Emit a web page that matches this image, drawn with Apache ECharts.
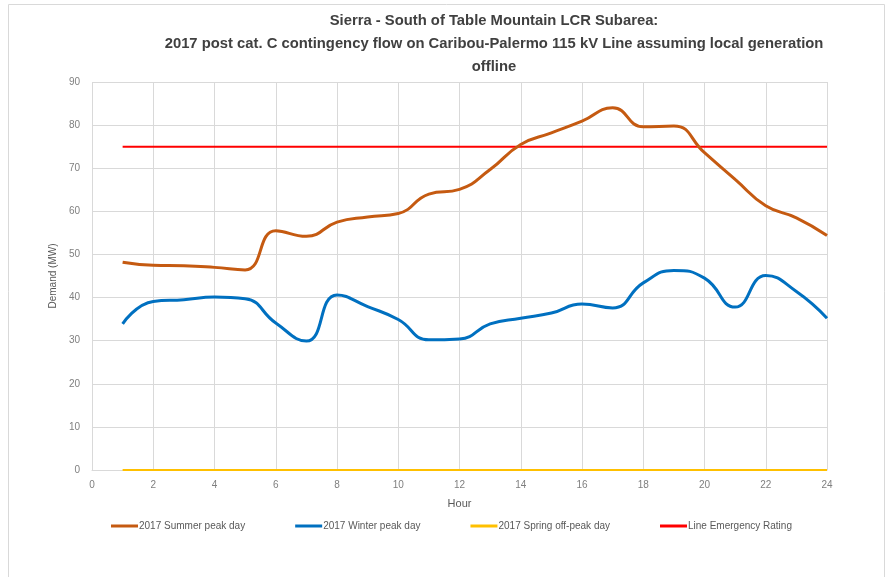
<!DOCTYPE html>
<html>
<head>
<meta charset="utf-8">
<script src="https://cdn.jsdelivr.net/npm/echarts@6/dist/echarts.min.js"></script>
<style>
  html, body { margin: 0; padding: 0; background: #fff; }
  #chart { width: 889px; height: 577px; }
</style>
</head>
<body>
<div id="chart"></div>
<script>
// hours 1..24
var hours = [1, 2, 3, 4, 5, 6, 7, 8, 9, 10, 11, 12, 13, 14, 15, 16, 17, 18, 19, 20, 21, 22, 23, 24]
var summerPeak = [48.2, 47.5, 47.4, 47.0, 46.4, 55.5, 54.2, 57.5, 58.7, 59.5, 64.0, 65.1,
  69.7, 75.5, 78.2, 80.9, 84.0, 79.6, 79.8, 73.6, 67.4, 61.3, 58.5, 54.4]
var winterPeak = [33.9, 39.1, 39.5, 40.1, 39.7, 34.1, 29.9, 40.6, 37.9, 34.9, 30.2, 30.4,
  33.9, 35.2, 36.4, 38.5, 37.6, 43.4, 46.3, 44.5, 37.8, 45.1, 41.4, 35.2]
var springOffPeak = [0, 0, 0, 0, 0, 0, 0, 0, 0, 0, 0, 0, 0, 0, 0, 0, 0, 0, 0, 0, 0, 0, 0, 0]
var emergencyRating = [75, 75, 75, 75, 75, 75, 75, 75, 75, 75, 75, 75,
  75, 75, 75, 75, 75, 75, 75, 75, 75, 75, 75, 75]

function pairs(vals) {
  return hours.map(function (h, i) { return [h, vals[i]] })
}

var font = 'Liberation Sans'
var chart = echarts.init(document.getElementById('chart'))

var option = {
  animation: false,
  textStyle: { fontFamily: font },
  graphic: [{
    type: 'rect',
    shape: { x: 8.5, y: 4.5, width: 876, height: 600 },
    style: { fill: 'none', stroke: '#d9d9d9', lineWidth: 1 },
    silent: true
  }],
  title: {
    text: 'Sierra - South of Table Mountain LCR Subarea:\n2017 post cat. C contingency flow on Caribou-Palermo 115 kV Line assuming local generation\noffline',
    left: 489,
    top: 4,
    textAlign: 'center',
    textStyle: {
      fontFamily: font,
      fontSize: 14.8,
      fontWeight: 'bold',
      color: '#404040',
      lineHeight: 23
    }
  },
  legend: {
    bottom: 41,
    left: 106,
    itemGap: 50,
    itemWidth: 27,
    itemHeight: 3,
    icon: 'rect',
    textStyle: { fontSize: 10, color: '#595959', padding: [0, 0, 0, -4] },
    data: ['2017 Summer peak day', '2017 Winter peak day', '2017 Spring off-peak day', 'Line Emergency Rating']
  },
  grid: {
    left: 92,
    right: 62,
    top: 82,
    bottom: 107
  },
  xAxis: {
    type: 'value',
    min: 0,
    max: 24,
    interval: 2,
    name: 'Hour',
    nameLocation: 'middle',
    nameGap: 28,
    nameTextStyle: { fontSize: 11, color: '#595959' },
    axisLine: { show: true, lineStyle: { color: '#d9d9d9' } },
    axisTick: { show: false },
    axisLabel: { fontSize: 10, color: '#7f7f7f', margin: 10 },
    splitLine: { show: true, lineStyle: { color: '#d9d9d9' } }
  },
  yAxis: {
    type: 'value',
    min: 0,
    max: 90,
    interval: 10,
    name: 'Demand (MW)',
    nameLocation: 'middle',
    nameGap: 21,
    nameTextStyle: { fontSize: 10, color: '#595959' },
    axisLine: { show: false },
    axisTick: { show: false },
    axisLabel: { fontSize: 10, color: '#7f7f7f', margin: 12 },
    splitLine: { show: true, lineStyle: { color: '#d9d9d9' } }
  },
  series: [
    {
      name: '2017 Summer peak day',
      type: 'line',
      data: pairs(summerPeak),
      smooth: 0.5,
      showSymbol: false,
      color: '#C55A11',
      lineStyle: { width: 3, color: '#C55A11' },
      z: 4
    },
    {
      name: '2017 Winter peak day',
      type: 'line',
      data: pairs(winterPeak),
      smooth: 0.5,
      showSymbol: false,
      color: '#0070C0',
      lineStyle: { width: 3, color: '#0070C0' },
      z: 4
    },
    {
      name: '2017 Spring off-peak day',
      type: 'line',
      data: pairs(springOffPeak),
      smooth: 0.5,
      showSymbol: false,
      color: '#FFC000',
      lineStyle: { width: 2, color: '#FFC000' },
      z: 3
    },
    {
      name: 'Line Emergency Rating',
      type: 'line',
      data: pairs(emergencyRating),
      showSymbol: false,
      color: '#FF0000',
      lineStyle: { width: 2, color: '#FF0000' },
      z: 3
    }
  ]
}

option && chart.setOption(option)
</script>
</body>
</html>
